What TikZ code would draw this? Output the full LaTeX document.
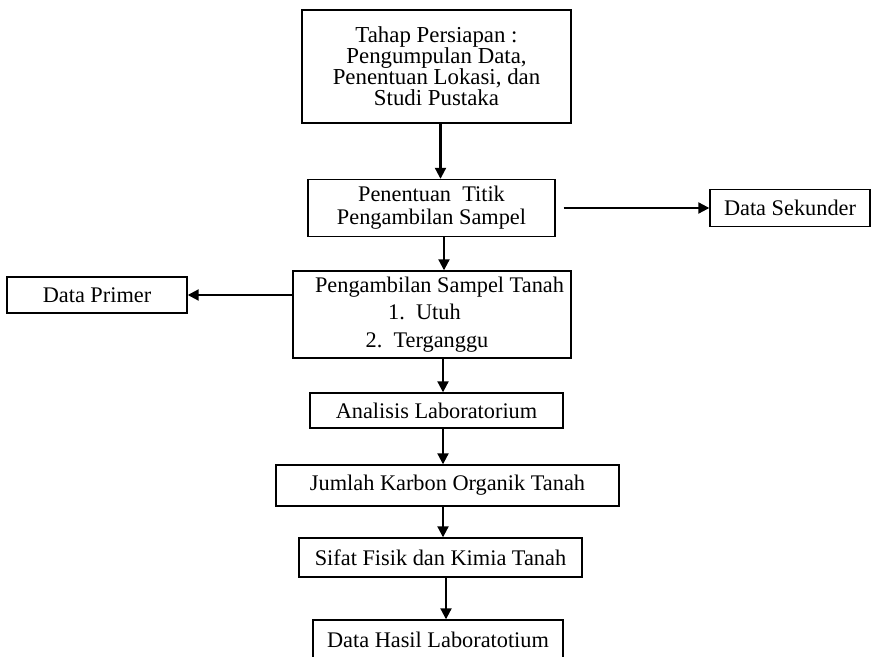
\documentclass[tikz,border=0pt]{standalone}
\usepackage{fontspec}
\setmainfont{Liberation Serif}
\usetikzlibrary{arrows.meta}
\newcommand{\tightlines}{\lineskiplimit=-5pt\relax}
\tikzstyle{process} = [rectangle,
inner sep=0pt,
align=center,
font=\fontsize{12.7}{13}\selectfont,
draw=black,thick,fill=white]
\tikzstyle{arrow} = [line width=1.2pt,-{Triangle[length=0.22cm,width=0.22cm]}]

\begin{document}
\begin{tikzpicture}
\useasboundingbox (0,0) rectangle (17.44,-13.14);

\node (prep) [process, font=\fontsize{13}{12}\selectfont\tightlines, minimum width=5.38cm, minimum height=2.26cm] at (8.73,-1.33) {Tahap Persiapan :\\Pengumpulan Data,\\Penentuan Lokasi, dan\\Studi Pustaka};
\node (titik) [process, minimum width=4.94cm, minimum height=1.14cm] at (8.63,-4.16) {\raisebox{-2pt}{Penentuan~ Titik}\\[0pt]\raisebox{-2pt}{Pengambilan Sampel}};
\node (sekunder) [process, minimum width=3.2cm, minimum height=0.74cm] at (15.8,-4.16) {Data Sekunder};
\node (sampel) [process, minimum width=5.56cm, minimum height=1.74cm] at (8.64,-6.29) {\hspace*{0.3cm}Pengambilan Sampel Tanah\\[2.5pt]\hspace*{-0.3cm}1.~~Utuh\\[2.5pt]\hspace*{-0.2cm}2.~~Terganggu};
\node (primer) [process, minimum width=3.6cm, minimum height=0.72cm] at (1.94,-5.9) {Data Primer};
\node (lab) [process, minimum width=5.06cm, minimum height=0.7cm] at (8.73,-8.21) {Analisis Laboratorium};
\node (karbon) [process, minimum width=6.86cm, minimum height=0.82cm] at (8.95,-9.71) {Jumlah Karbon Organik Tanah};
\node (sifat) [process, minimum width=5.66cm, minimum height=0.78cm] at (8.81,-11.15) {Sifat Fisik dan Kimia Tanah};
\node (hasil) [process, minimum width=5.0cm, minimum height=0.8cm] at (8.76,-12.8) {Data Hasil Laboratotium};

\draw [arrow] ([xshift=0.08cm]prep.south) -- ([xshift=0.08cm]prep.south |- titik.north);
\draw [arrow] ([xshift=0.25cm]titik.south) -- ([xshift=0.25cm]titik.south |- sampel.north);
\draw [arrow, shorten <=0.16cm] (titik) -- (sekunder);
\draw [arrow] (sampel.west |- primer) -- (primer);
\draw [arrow] ([xshift=0.22cm]sampel.south) -- ([xshift=0.22cm]sampel.south |- lab.north);
\draw [arrow] ([xshift=0.13cm]lab.south) -- ([xshift=0.13cm]lab.south |- karbon.north);
\draw [arrow] ([xshift=-0.09cm]karbon.south) -- ([xshift=-0.09cm]karbon.south |- sifat.north);
\draw [arrow] ([xshift=0.11cm]sifat.south) -- ([xshift=0.11cm]sifat.south |- hasil.north);

\end{tikzpicture}
\end{document}
